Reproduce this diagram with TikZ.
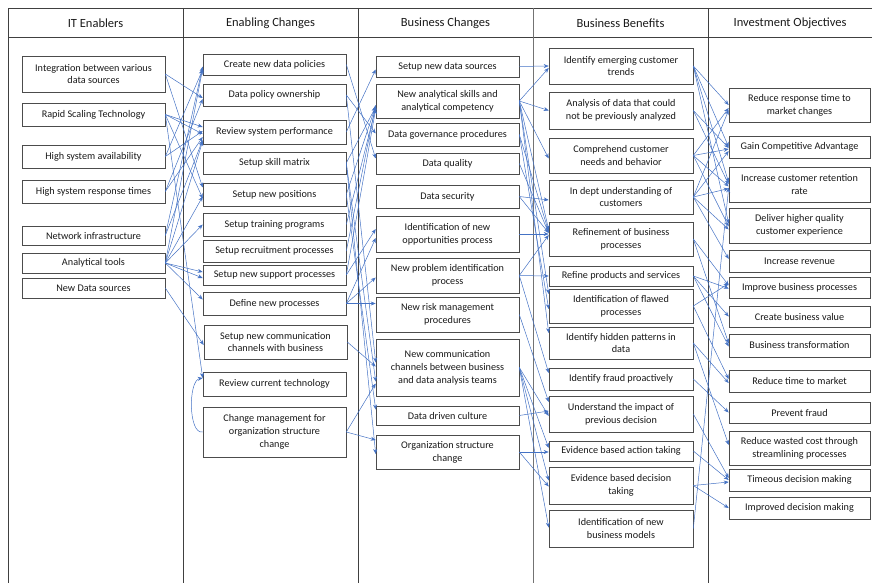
\documentclass[tikz,border=0pt]{standalone}
\usepackage{fontspec}
\setmainfont{Carlito}
\usetikzlibrary{arrows.meta}
\definecolor{ln}{HTML}{4472C4}
\begin{document}
\begin{tikzpicture}[x=1pt,y=-1pt,
  box/.style={draw=black!70, line width=0.6pt, rectangle, inner sep=1pt, align=center,
    font=\fontsize{10.2}{12.8}\selectfont, text=black!90},
  c1/.style={box, minimum width=143pt},
  c2/.style={box, minimum width=143pt},
  c3/.style={box, minimum width=143pt},
  c4/.style={box, minimum width=144pt},
  c5/.style={box, minimum width=141pt},
  hdr/.style={font=\fontsize{12.5}{14}\selectfont, text=black!90},
  grid/.style={draw=black!75, line width=0.9pt},
  arr/.style={draw=ln, line width=0.5pt, -{Stealth[length=5pt,width=4pt]}}]
\useasboundingbox (0,0) rectangle (872,583);
% table frame
\draw[grid] (8,583) -- (8,8) -- (872,8);
\draw[grid] (8,37) -- (872,37);
\foreach \xx in {183,358,708} \draw[grid] (\xx,8) -- (\xx,583);
\draw[draw=black!55, line width=0.9pt] (533,8) -- (533,583);
% headers
\node[hdr] (h1) at (95.5,23) {IT Enablers};
\node[hdr] (h2) at (270.5,23) {Enabling Changes};
\node[hdr] (h3) at (445.5,23) {Business Changes};
\node[hdr] (h4) at (620.5,23) {Business Benefits};
\node[hdr] (h5) at (790,23) {Investment Objectives};
% column 1
\node[c1, minimum height=36pt] (int) at (93.5,74) {Integration between various\\data sources};
\node[c1, minimum height=23pt] (rst) at (93.5,114.5) {Rapid Scaling Technology};
\node[c1, minimum height=23pt] (hsa) at (93.5,156.5) {High system availability};
\node[c1, minimum height=23pt] (hsrt) at (93.5,191.5) {High system response times};
\node[c1, minimum height=19pt] (ni) at (93.5,235.5) {Network infrastructure};
\node[c1, minimum height=20pt] (at) at (93.5,263) {Analytical tools};
\node[c1, minimum height=20pt] (nds) at (93.5,288) {New Data sources};
% column 2
\node[c2, minimum height=21pt] (cndp) at (274.5,64.5) {Create new data policies};
\node[c2, minimum height=22pt] (dpo) at (274.5,95) {Data policy ownership};
\node[c2, minimum height=24pt] (rsp) at (274.5,132) {Review system performance};
\node[c2, minimum height=22pt] (ssm) at (274.5,163) {Setup skill matrix};
\node[c2, minimum height=23pt] (snpos) at (274.5,194.5) {Setup new positions};
\node[c2, minimum height=23pt] (stp) at (274.5,224.5) {Setup training programs};
\node[c2, minimum height=22pt] (srp) at (274.5,251) {Setup recruitment processes};
\node[c2, minimum height=20pt] (snsp) at (274.5,275) {Setup new support processes};
\node[c2, minimum height=23pt] (dnp) at (274.5,303.5) {Define new processes};
\node[c2, minimum height=34pt] (sncc) at (275.5,342) {Setup new communication\\channels with business};
\node[c2, minimum height=24pt] (rct) at (274.5,384) {Review current technology};
\node[c2, minimum height=50pt] (chm) at (274.5,432) {Change management for\\organization structure\\change};
% column 3
\node[c3, minimum height=21pt] (snds) at (447.5,66.5) {Setup new data sources};
\node[c3, minimum height=34pt] (nask) at (447.5,101) {New analytical skills and\\analytical competency};
\node[c3, minimum height=23pt] (dgp) at (447.5,134.5) {Data governance procedures};
\node[c3, minimum height=21pt] (dq) at (447.5,163.5) {Data quality};
\node[c3, minimum height=23pt] (dsec) at (447.5,196.5) {Data security};
\node[c3, minimum height=36pt] (inop) at (447.5,234) {Identification of new\\opportunities process};
\node[c3, minimum height=35pt] (npip) at (447.5,275.5) {New problem identification\\process};
\node[c3, minimum height=35pt] (nrmp) at (447.5,314.5) {New risk management\\procedures};
\node[c3, minimum height=57pt] (nccb) at (447.5,367.5) {New communication\\channels between business\\and data analysis teams};
\node[c3, minimum height=19pt] (ddc) at (447.5,415.5) {Data driven culture};
\node[c3, minimum height=34pt] (osc) at (447.5,452) {Organization structure\\change};
% column 4
\node[c4, minimum height=36pt] (iect) at (621,66) {Identify emerging customer\\trends};
\node[c4, minimum height=37pt] (adpa) at (621,110.5) {Analysis of data that could\\not be previously analyzed};
\node[c4, minimum height=35pt] (ccnb) at (621,155.5) {Comprehend customer\\needs and behavior};
\node[c4, minimum height=34pt] (iduc) at (621,197) {In dept understanding of\\customers};
\node[c4, minimum height=34pt] (rbp) at (621,239) {Refinement of business\\processes};
\node[c4, minimum height=20pt] (rps) at (621,276) {Refine products and services};
\node[c4, minimum height=34pt] (ifp) at (621,306) {Identification of flawed\\processes};
\node[c4, minimum height=32pt] (ihp) at (621,343) {Identify hidden patterns in\\data};
\node[c4, minimum height=22pt] (ifr) at (621,379) {Identify fraud proactively};
\node[c4, minimum height=36pt] (uipd) at (621,414) {Understand the impact of\\previous decision};
\node[c4, minimum height=20pt] (ebat) at (621,451) {Evidence based action taking};
\node[c4, minimum height=37pt] (ebdt) at (621,485.5) {Evidence based decision\\taking};
\node[c4, minimum height=37pt] (inbm) at (621,528.5) {Identification of new\\business models};
% column 5
\node[c5, minimum height=34pt] (rrt) at (799.5,105) {Reduce response time to\\market changes};
\node[c5, minimum height=22pt] (gca) at (799.5,147) {Gain Competitive Advantage};
\node[c5, minimum height=35pt] (icr) at (799.5,184.5) {Increase customer retention\\rate};
\node[c5, minimum height=35pt] (dhq) at (799.5,225.5) {Deliver higher quality\\customer experience};
\node[c5, minimum height=22pt] (ir) at (799.5,261) {Increase revenue};
\node[c5, minimum height=21pt] (ibp) at (799.5,287.5) {Improve business processes};
\node[c5, minimum height=21pt] (cbv) at (799.5,316.5) {Create business value};
\node[c5, minimum height=23pt] (bt) at (799.5,345.5) {Business transformation};
\node[c5, minimum height=22pt] (rttm) at (799.5,381) {Reduce time to market};
\node[c5, minimum height=21pt] (pf) at (799.5,412.5) {Prevent fraud};
\node[c5, minimum height=34pt] (rwc) at (799.5,448) {Reduce wasted cost through\\streamlining processes};
\node[c5, minimum height=22pt] (tdm) at (799.5,480) {Timeous decision making};
\node[c5, minimum height=22pt] (idm) at (799.5,508) {Improved decision making};
% ---- gap 1: IT enablers -> enabling changes
\draw[arr] (int.east) -- ([yshift=-3pt]dpo.west);
\draw[arr] (int.east) -- ([yshift=7pt]snpos.west);
\draw[arr] (rst.east) -- ([yshift=5pt]rsp.west);
\draw[arr] (rst.east) -- ([yshift=-2pt]rsp.west);
\draw[arr] (rst.east) -- ([yshift=-4pt]snpos.west);
\draw[arr] (rst.east) -- ([yshift=6pt]rct.west);
\draw[arr] (hsa.east) -- ([yshift=1pt]rsp.west);
\draw[arr] (hsa.east) -- ([yshift=-5pt]cndp.west);
\draw[arr] (hsrt.east) -- ([yshift=-5pt]rsp.west);
\draw[arr] (hsrt.east) -- ([yshift=-4pt]dpo.west);
\draw[arr] (ni.east) -- ([yshift=-8pt]rsp.west);
\draw[arr] (ni.east) -- ([yshift=-2pt]cndp.west);
\draw[arr] (at.east) -- ([yshift=-4pt]cndp.west);
\draw[arr] (at.east) -- ([yshift=-9pt]rsp.west);
\draw[arr] (at.east) -- ([yshift=-2pt]snpos.west);
\draw[arr] (at.east) -- (stp.west);
\draw[arr] (at.east) -- ([yshift=3pt]snsp.west);
\draw[arr] (at.east) -- ([yshift=-3pt]snsp.west);
\draw[arr] (at.east) -- ([yshift=4pt]dnp.west);
\draw[arr] (nds.east) -- ([yshift=-3pt]sncc.west);
\draw[arr] (chm.west) to[out=190,in=190,looseness=0.7] ([yshift=6pt]rct.west);
% ---- gap 2: enabling changes -> business changes
\draw[arr] (cndp.east) -- ([yshift=5pt]dq.west);
\draw[arr] (dpo.east) -- ([yshift=1pt]dgp.west);
\draw[arr] (rsp.east) -- ([yshift=-3pt]snds.west);
\draw[arr] (ssm.east) -- ([yshift=-6pt]nask.west);
\draw[arr] (snpos.east) -- ([yshift=-5pt]nask.west);
\draw[arr] (stp.east) -- ([yshift=-7pt]nask.west);
\draw[arr] (srp.east) -- ([yshift=-4pt]nask.west);
\draw[arr] (snsp.east) -- ([yshift=-8pt]nask.west);
\draw[arr] (snsp.east) -- ([yshift=5pt]inop.west);
\draw[arr] (ssm.east) -- ([yshift=-14pt]nccb.west);
\draw[arr] (snpos.east) -- ([yshift=6pt]ddc.west);
\draw[arr] (ssm.east) -- ([yshift=-2pt]osc.west);
\draw[arr] (dnp.east) -- ([yshift=-4pt]inop.west);
\draw[arr] (dnp.east) -- ([yshift=-2pt]npip.west);
\draw[arr] (dnp.east) -- ([yshift=11pt]nrmp.west);
\draw[arr] (dpo.east) -- ([yshift=5pt]nccb.west);
\draw[arr] (sncc.east) -- ([yshift=1pt]nccb.west);
\draw[arr] (chm.east) -- ([yshift=-16pt]nccb.west);
\draw[arr] (chm.east) -- ([yshift=12pt]osc.west);
% ---- gap 3: business changes -> business benefits
\draw[arr] (snds.east) -- (iect.west);
\draw[arr] (nask.east) -- ([yshift=-2pt]iect.west);
\draw[arr] (nask.east) -- (adpa.west);
\draw[arr] (nask.east) -- ([yshift=-3pt]ccnb.west);
\draw[arr] (nask.east) -- ([yshift=9pt]rbp.west);
\draw[arr] (nask.east) -- ([yshift=12pt]ifp.west);
\draw[arr] (nask.east) -- ([yshift=10pt]ihp.west);
\draw[arr] (dgp.east) -- ([yshift=7pt]rbp.west);
\draw[arr] (dgp.east) -- ([yshift=-3pt]ifp.west);
\draw[arr] (dq.east) -- ([yshift=6pt]rbp.west);
\draw[arr] (dsec.east) -- ([yshift=-3pt]iduc.west);
\draw[arr] (dsec.east) -- ([yshift=6pt]rbp.west);
\draw[arr] (inop.east) -- ([yshift=5pt]rbp.west);
\draw[arr] (npip.east) -- ([yshift=4pt]rbp.west);
\draw[arr] (npip.east) -- (rps.west);
\draw[arr] (npip.east) -- ([yshift=6pt]ifr.west);
\draw[arr] (nrmp.east) -- ([yshift=12pt]uipd.west);
\draw[arr] (nccb.east) -- ([yshift=-2pt]uipd.west);
\draw[arr] (nccb.east) -- ([yshift=3pt]ebat.west);
\draw[arr] (nccb.east) -- ([yshift=5pt]ebdt.west);
\draw[arr] (nccb.east) -- ([yshift=1pt]inbm.west);
\draw[arr] (ddc.east) -- ([yshift=3pt]uipd.west);
\draw[arr] (osc.east) -- ([yshift=-1pt]ebat.west);
\draw[arr] (osc.east) -- ([yshift=-1pt]ebdt.west);
% ---- gap 4: business benefits -> investment objectives
\draw[arr] (iect.east) -- (rrt.west);
\draw[arr] (iect.east) -- (gca.west);
\draw[arr] (iect.east) -- ([yshift=2pt]icr.west);
\draw[arr] (iect.east) -- ([yshift=2pt]dhq.west);
\draw[arr] (adpa.east) -- ([yshift=-1pt]gca.west);
\draw[arr] (adpa.east) -- (icr.west);
\draw[arr] (ccnb.east) -- ([yshift=-3pt]rrt.west);
\draw[arr] (ccnb.east) -- ([yshift=-2pt]gca.west);
\draw[arr] (ccnb.east) -- ([yshift=-2pt]icr.west);
\draw[arr] (ccnb.east) -- ([yshift=-1pt]dhq.west);
\draw[arr] (iduc.east) -- ([yshift=-5pt]rrt.west);
\draw[arr] (iduc.east) -- ([yshift=-4pt]gca.west);
\draw[arr] (iduc.east) -- ([yshift=-4pt]icr.west);
\draw[arr] (iduc.east) -- ([yshift=-4pt]dhq.west);
\draw[arr] (iduc.east) -- ([yshift=2pt]ir.west);
\draw[arr] (rbp.east) -- ([yshift=2pt]ibp.west);
\draw[arr] (rbp.east) -- ([yshift=2pt]bt.west);
\draw[arr] (rps.east) -- ([yshift=-1pt]ibp.west);
\draw[arr] (rps.east) -- (cbv.west);
\draw[arr] (rps.east) -- ([yshift=-1pt]bt.west);
\draw[arr] (ifp.east) -- ([yshift=4pt]ibp.west);
\draw[arr] (ifp.east) -- ([yshift=2pt]rttm.west);
\draw[arr] (ihp.east) -- ([yshift=-2pt]rttm.west);
\draw[arr] (ihp.east) -- ([yshift=3pt]rwc.west);
\draw[arr] (ifr.east) -- (pf.west);
\draw[arr] (uipd.east) -- ([yshift=2pt]tdm.west);
\draw[arr] (ebat.east) -- (tdm.west);
\draw[arr] (ebdt.east) -- ([yshift=-2pt]tdm.west);
\draw[arr] (ebdt.east) -- (idm.west);
\draw[arr] (inbm.east) -- ([yshift=-3pt]icr.west);
\end{tikzpicture}
\end{document}
